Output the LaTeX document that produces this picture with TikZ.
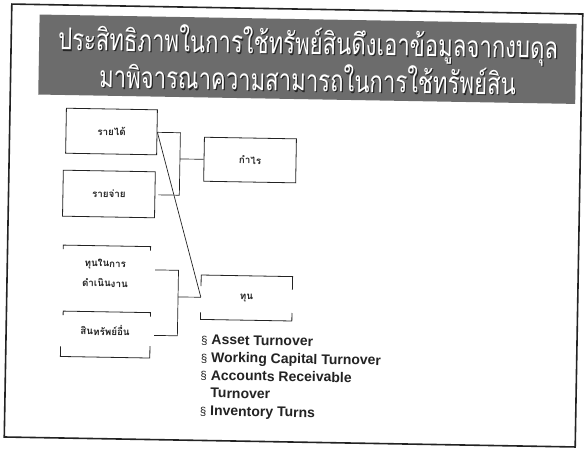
\documentclass[tikz,border=0pt]{standalone}
\usepackage{fontspec}
\usepackage{graphicx}
\setmainfont{Liberation Sans}
\newfontfamily\thaifont[Script=Thai]{Loma}
\usetikzlibrary{calc}
\definecolor{bandgray}{RGB}{108,108,108}
\definecolor{ink}{RGB}{35,35,35}
\newcommand\ttlA{ประสิทธิภาพในการใช้ทรัพย์สินดึงเอาข้อมูลจากงบดุล}
\newcommand\ttlB{มาพิจารณาความสามารถในการใช้ทรัพย์สิน}
\newcommand\ttlfont{\thaifont\fontsize{30}{30}\selectfont}
\newlength\ttlw
\newcommand\bsec{{\fontsize{11.5}{11.5}\selectfont\mdseries\S}\ }
\begin{document}
\settowidth\ttlw{\ttlfont\ttlA}%
\pgfmathsetmacro\ttlsx{500/\ttlw}%
\begin{tikzpicture}[x=1pt,y=-1pt,
  lbox/.style={draw=ink,line width=0.8pt,inner sep=0pt},
  obox/.style={inner sep=0pt},
  thl/.style={font=\thaifont\bfseries\fontsize{9.8}{20}\selectfont,text=ink,align=center,inner sep=0pt},
  conn/.style={draw=ink,line width=0.7pt},
  brk/.style={draw=ink,line width=0.8pt},
  ttl/.style={anchor=base,inner sep=0pt}]
\fill[white] (0,0) rectangle (585,450);
\useasboundingbox (0,0) rectangle (585,450);
\begin{scope}[rotate around={-1:(293,225.5)},transform shape]
  % frame and title band
  \draw[ink,line width=1.6pt] (8,9) rectangle (579,442);
  \fill[bandgray] (36,19) rectangle (573,99);
  \node[ttl,text=black!85] (t1s) at (306.2,55.2) {\scalebox{\ttlsx}[1]{\ttlfont\ttlA}};
  \node[ttl,text=white] (t1) at (305,54) {\scalebox{\ttlsx}[1]{\ttlfont\ttlA}};
  \node[ttl,text=black!85] (t2s) at (306.2,92.2) {\scalebox{\ttlsx}[1]{\ttlfont\ttlB}};
  \node[ttl,text=white] (t2) at (305,91) {\scalebox{\ttlsx}[1]{\ttlfont\ttlB}};
  % upper group
  \node[lbox,thl,minimum width=91,minimum height=45] (rev) at (109.9,134.7) {รายได้};
  \node[lbox,thl,minimum width=92,minimum height=46] (exp) at (108.4,197.2) {รายจ่าย};
  \node[lbox,thl,minimum width=92,minimum height=44] (prof) at (248.9,160.8) {กำไร};
  \coordinate (jn1) at (178.8,161);
  \draw[conn] (rev.east) -| (jn1) |- ([xshift=3pt]exp.east);
  \draw[conn] (jn1) -- (prof.west);
  % lower group
  \node[obox,minimum width=87,minimum height=46] (opcap) at (107.3,272.3) {};
  \node[thl] (opcapT) at (106,276.5) {ทุนในการ\\ดำเนินงาน};
  \node[obox,minimum width=87,minimum height=45] (other) at (108.4,337.8) {};
  \node[thl] (otherT) at (107,333.5) {สินทรัพย์อื่น};
  \node[obox,thl,minimum width=91,minimum height=44] (cap) at (247.8,298.8) {ทุน};
  \draw[brk] (opcap.north west) ++(0,4) -- (opcap.north west) -- (opcap.north east) -- ++(0,4);
  \draw[brk] (other.north west) ++(0,4) -- (other.north west) -- (other.north east) -- ++(0,4);
  \draw[brk] (other.south west) ++(-2,-10) -- ++(0,10) -- (other.south east) -- ++(0,-12);
  \draw[brk] (cap.north west) ++(0,11) -- (cap.north west) -- (cap.north east) -- ++(0,13);
  \draw[brk] (cap.south west) ++(0,-7) -- (cap.south west) -- (cap.south east) -- ++(0,-8);
  \coordinate (jn2) at (179.3,299);
  \draw[conn] ([xshift=5pt]opcap.east) -| (jn2) |- ([xshift=4pt]other.east);
  \draw[conn] (jn2) -- (cap.west);
  \draw[conn] (rev.east) -- (cap.west);
  % ratios list
  \node[anchor=north west,inner sep=0pt,align=left,text=ink,
        font=\bfseries\fontsize{14}{17.8}\selectfont] (ratios) at (203,336)
    {\bsec Asset Turnover\\ \bsec Working Capital Turnover\\ \bsec Accounts Receivable\\ \hphantom{\bsec}Turnover\\ \bsec Inventory Turns};
\end{scope}
\end{tikzpicture}
\end{document}
